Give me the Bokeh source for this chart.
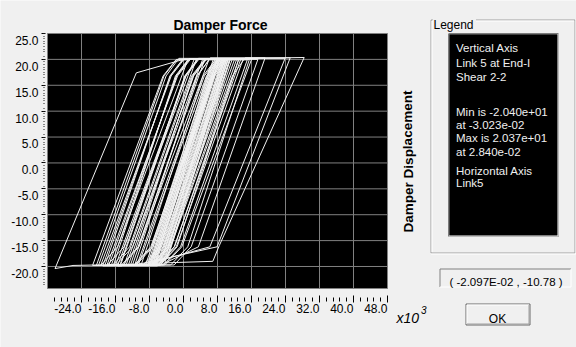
from bokeh.plotting import figure
from bokeh.models import FixedTicker, LinearAxis, Range1d
from bokeh.embed import file_html
from bokeh.resources import INLINE
from bokeh.core.properties import value

# Link 5 hysteresis: displacement (x10^-3) and shear force, one continuous path
disp = [
    0.0, 7.3, 10.3, 12.0, -3.7, -7.7,
    -9.0, 6.9, 9.9, 13.5, -2.2, -6.2,
    -11.0, 4.9, 7.9, 15.0, -0.7, -4.7,
    -13.5, 2.4, 5.4, 8.0, -7.7, -11.7,
    -16.0, 0.6, 3.6, 6.0, -10.5, -14.5,
    -19.0, -3.1, -0.1, 3.0, -12.7, -16.7,
    -21.4, -4.8, -1.8, 1.0, -15.5, -19.5,
    -20.0, -4.1, -1.1, 16.1, -0.4, -4.4,
    -12.0, 3.3, 6.3, 19.2, 3.5, -5.0,
    -17.5, -1.6, 1.4, 11.0, -4.7, -8.7,
    -16.5, -1.9, 1.1, 7.0, -7.5, -11.5,
    -13.0, 2.3, 5.3, 13.0, -2.1, -6.1,
    -15.5, 0.4, 3.4, 5.0, -10.7, -14.7,
    -18.5, -3.2, -0.2, 12.5, -3.2, -7.2,
    -10.0, 4.6, 7.6, 17.5, 1.8, -2.2,
    -14.8, 0.5, 3.5, 23.9, 6.2, -8.5, -26.0,
    -30.23, -11.1, 0.0, 28.40, 8.4, 6.9,
    -4.4, 11.5, 14.5, 25.1, 7.9, -9.6,
    -10.5, 5.4, 8.4, 14.0, -1.7, -5.7,
    -19.5, -2.9, 0.1, 4.5, -12.0, -16.0,
    -17.0, -1.7, 1.3, 9.5, -5.6, -9.6,
    -14.0, 1.9, 4.9, 10.5, -5.2, -9.2,
    -12.5, 2.1, 5.1, 15.5, 1.0, -3.0,
    -18.0, -1.4, 1.6, 2.5, -14.0, -18.0,
    -20.5, -4.6, -1.6, 8.5, -7.2, -11.2,
    -15.0, 0.3, 3.3, 11.5, -3.6, -7.6,
    -11.5, 3.1, 6.1, 13.0, -1.5, -5.5,
    -8.5, 6.0, 7.5, 9.0, -5.5, -7.5,
    -7.6, 6.9, 8.4, 9.6, -4.9, -6.9,
    -7.0, 7.5, 9.0, 10.2, -4.3, -6.3,
    -6.8, 7.7, 9.2, 10.8, -3.7, -5.7,
    -7.3, 7.2, 8.7, 9.8, -4.7, -6.7,
    -7.9, 6.6, 8.1, 9.2, -5.3, -7.3,
    -8.2, 6.3, 7.8, 10.5, -4.0, -6.0,
    -6.6, 7.9, 9.4, 11.0, -3.5, -5.5,
    -8.0, 6.5, 8.0, 9.4, -5.1, -7.1,
    -7.2, 7.3, 8.8, 10.0, -4.5, -6.5,
    -7.7, 6.8, 8.3, 9.7, -4.8, -6.8,
    -7.4, 7.1, 8.6, 10.4, -4.1, -6.1,
    -6.9, 7.6, 9.1, 10.1, 3.0,
]
force = [
    0.0, 16.8, 20.0, 20.0, -16.2, -19.8,
    -19.8, 16.8, 20.1, 20.1, -16.2, -19.8,
    -19.8, 16.8, 19.9, 19.9, -16.2, -19.7,
    -19.7, 16.8, 20.0, 20.0, -16.2, -19.8,
    -19.8, 16.8, 20.0, 20.0, -16.2, -19.9,
    -19.9, 16.8, 20.0, 20.0, -16.2, -19.8,
    -19.8, 16.8, 19.9, 19.9, -16.2, -19.8,
    -19.8, 16.8, 20.2, 20.2, -16.2, -19.7,
    -19.7, 16.8, 20.3, 20.3, -16.2, -19.6,
    -19.6, 16.8, 20.0, 20.0, -16.2, -19.8,
    -19.8, 16.8, 20.0, 20.0, -16.2, -19.8,
    -19.8, 16.8, 20.1, 20.1, -16.2, -19.9,
    -19.9, 16.8, 20.0, 20.0, -16.2, -19.8,
    -19.8, 16.8, 20.0, 20.0, -16.2, -19.8,
    -19.8, 16.8, 20.0, 20.0, -16.2, -19.7,
    -19.7, 16.8, 20.2, 20.2, -16.2, -19.5, -19.8,
    -20.40, 17.4, 20.0, 20.37, -16.0, -19.0,
    -19.3, 16.8, 20.3, 20.3, -16.2, -19.4,
    -19.4, 16.8, 20.0, 20.0, -16.2, -19.8,
    -19.8, 16.8, 20.0, 20.0, -16.2, -19.8,
    -19.8, 16.8, 20.1, 20.1, -16.2, -19.8,
    -19.8, 16.8, 19.9, 19.9, -16.2, -19.8,
    -19.8, 16.8, 20.0, 20.0, -16.2, -19.7,
    -19.7, 16.8, 20.0, 20.0, -16.2, -19.8,
    -19.8, 16.8, 20.0, 20.0, -16.2, -19.8,
    -19.8, 16.8, 20.1, 20.1, -16.2, -19.8,
    -19.8, 16.8, 20.0, 20.0, -16.2, -19.8,
    -19.8, 18.0, 20.0, 20.0, -17.8, -19.8,
    -19.8, 18.0, 20.0, 20.0, -17.8, -19.8,
    -19.8, 18.0, 20.0, 20.0, -17.8, -19.8,
    -19.8, 18.0, 20.0, 20.0, -17.8, -19.8,
    -19.8, 18.0, 20.0, 20.0, -17.8, -19.8,
    -19.8, 18.0, 20.0, 20.0, -17.8, -19.8,
    -19.8, 18.0, 20.0, 20.0, -17.8, -19.8,
    -19.8, 18.0, 20.0, 20.0, -17.8, -19.8,
    -19.8, 18.0, 20.0, 20.0, -17.8, -19.8,
    -19.8, 18.0, 20.0, 20.0, -17.8, -19.8,
    -19.8, 18.0, 20.0, 20.0, -17.8, -19.8,
    -19.8, 18.0, 20.0, 20.0, -17.8, -19.8,
    -19.8, 18.0, 20.0, 20.0, 1.5,
]

x_ticks = [-24.0, -16.0, -8.0, 0.0, 8.0, 16.0, 24.0, 32.0, 40.0, 48.0]
x_tick_labels = ["-24.0", "-16.0", "-8.0", "0.0", "8.0", "16.0", "24.0", "32.0", "40.0", "48.0"]
y_ticks = [-20.0, -15.0, -10.0, -5.0, 0.0, 5.0, 10.0, 15.0, 20.0, 25.0]
y_tick_labels = ["-20.0", "-15.0", "-10.0", "-5.0", "0.0", "5.0", "10.0", "15.0", "20.0", "25.0"]

legend_lines = ["Vertical Axis", "Link 5 at End-I", "Shear 2-2",
                "Min is -2.040e+01", "at -3.023e-02", "Max is 2.037e+01", "at 2.840e-02",
                "Horizontal Axis", "Link5"]
cursor_readout = "( -2.097E-02 , -10.78 )"

FONT = "Liberation Sans"
BG = "#f0f0f0"
W, H = 576, 347

# plot window of the chart, in page pixels, and its data limits
X0, X1, XMIN, XMAX = 47, 387, -32.0, 48.0
Y0, Y1, YMAX, YMIN = 33, 288, 25.0, -24.25
kx = (X1 - X0) / (XMAX - XMIN)
ky = (Y1 - Y0) / (YMAX - YMIN)

# whole dialog is one canvas; default ranges are page pixels (y downwards)
p = figure(width=W, height=H, x_range=Range1d(0, W), y_range=Range1d(H, 0),
           output_backend="svg", toolbar_location=None, min_border=0,
           background_fill_color=BG, border_fill_color=BG, outline_line_color=None,
           x_axis_location=None, y_axis_location=None)
p.xgrid.visible = False
p.ygrid.visible = False

# data scales of the chart, stretched so the plot window lands on X0..X1 / Y0..Y1
p.extra_x_ranges = {"disp": Range1d(XMIN - X0 / kx, XMIN + (W - X0) / kx)}
p.extra_y_ranges = {"force": Range1d(YMIN - (H - Y1) / ky, YMAX + Y0 / ky)}
D = dict(x_range_name="disp", y_range_name="force")

p.quad(left=XMIN, right=XMAX, bottom=YMIN, top=YMAX, fill_color="#000000",
       line_color="#808080", line_width=1, **D)

grid_x = [t for t in x_ticks if XMIN < t < XMAX]
grid_y = [t for t in y_ticks if YMIN < t < YMAX]
p.segment(x0=grid_x, x1=grid_x, y0=[YMIN] * len(grid_x), y1=[YMAX] * len(grid_x),
          line_color="#808080", line_width=1, **D)
p.segment(x0=[XMIN] * len(grid_y), x1=[XMAX] * len(grid_y), y0=grid_y, y1=grid_y,
          line_color="#808080", line_width=1, **D)

p.line(disp, force, line_color="#f2f2f2", line_width=1, **D)

# x axis: detached tick row under the window, labels ending at their tick
x_minor = [round(XMIN + 1.6 * i, 2) for i in range(1, 50) if i % 5]
ax_x = LinearAxis(ticker=FixedTicker(ticks=x_ticks, minor_ticks=x_minor),
                  fixed_location=YMIN, axis_line_color=None,
                  major_tick_in=-7, major_tick_out=14, minor_tick_in=-9, minor_tick_out=13,
                  major_tick_line_color="#000000", minor_tick_line_color="#000000",
                  major_label_overrides=dict(zip(x_ticks, x_tick_labels)),
                  major_label_orientation=1e-6, major_label_standoff=6,
                  major_label_text_font=FONT, major_label_text_font_size="12px",
                  major_label_text_color="#000000", **D)
p.add_layout(ax_x, "below")

# y axis: short ticks and a dotted column; each label sits just under its tick
y_minor = [round(-24.0 + 0.5 * i, 2) for i in range(0, 99) if (i % 10) != 0]
ax_y = LinearAxis(ticker=FixedTicker(ticks=y_ticks, minor_ticks=y_minor),
                  fixed_location=XMIN, axis_line_color=None,
                  major_tick_in=-2, major_tick_out=6, minor_tick_in=-3, minor_tick_out=4,
                  major_tick_line_color="#000000", minor_tick_line_color="#202020",
                  major_label_overrides={t: "\n" + lab for t, lab in zip(y_ticks, y_tick_labels)},
                  major_label_text_line_height=1.05, major_label_standoff=3,
                  major_label_text_font=FONT, major_label_text_font_size="12px",
                  major_label_text_color="#000000", **D)
p.add_layout(ax_y, "left")

# chart title, axis caption and scale note
p.text(x=[(X0 + X1) / 2 + 3], y=[24], text=["Damper Force"], text_font=value(FONT),
       text_font_style="bold", text_font_size="14px", text_align="center",
       text_baseline="alphabetic", text_color="#000000")
p.text(x=[407.5], y=[161], text=["Damper Displacement"], angle=1.5708,
       text_font=value(FONT), text_font_style="bold", text_font_size="13.5px",
       text_align="center", text_baseline="middle", text_color="#000000")
p.text(x=[396], y=[317], text=["x10"], text_font=value(FONT), text_font_style="italic",
       text_font_size="14px", text_baseline="alphabetic", text_color="#000000")
p.text(x=[420.5], y=[309.5], text=["3"], text_font=value(FONT), text_font_style="italic",
       text_font_size="10px", text_baseline="alphabetic", text_color="#000000")

# etched group frame with its caption
p.multi_line(xs=[[430.5, 432.5], [475.5, 574.5], [430.5, 430.5], [430.5, 574.5], [574.5, 574.5]],
             ys=[[19.5, 19.5], [19.5, 19.5], [19.5, 252.5], [252.5, 252.5], [19.5, 252.5]],
             line_color="#a0a0a0", line_width=1)
p.multi_line(xs=[[431.5, 432.5], [475.5, 573.5], [431.5, 431.5], [430.5, 575.5], [575.5, 575.5]],
             ys=[[20.5, 20.5], [20.5, 20.5], [20.5, 251.5], [253.5, 253.5], [19.5, 253.5]],
             line_color="#ffffff", line_width=1)
p.text(x=[433], y=[24], text=["Legend"], text_font=value(FONT), text_font_size="12px",
       text_baseline="alphabetic", text_align="left", text_color="#000000")

# black information box
p.quad(left=448, right=558, top=33, bottom=236, fill_color="#000000", line_color=None)
p.multi_line(xs=[[448.5, 448.5], [448.5, 557.5]], ys=[[235.5, 33.5], [33.5, 33.5]],
             line_color="#808080", line_width=1)
p.multi_line(xs=[[557.5, 557.5], [448.5, 557.5]], ys=[[33.5, 235.5], [235.5, 235.5]],
             line_color="#ffffff", line_width=1)
legend_baselines = [47, 62, 76, 111, 124, 137, 151, 170, 182]
p.text(x=[455.5] * len(legend_lines), y=legend_baselines, text=legend_lines,
       text_font=value(FONT), text_font_size="11.5px", text_baseline="alphabetic",
       text_align="left", text_color="#f0f0f0")

# cursor read-out field
p.multi_line(xs=[[439.5, 439.5], [439.5, 570.5]], ys=[[286.5, 268.5], [268.5, 268.5]],
             line_color="#808080", line_width=1)
p.multi_line(xs=[[570.5, 570.5], [439.5, 570.5]], ys=[[268.5, 286.5], [286.5, 286.5]],
             line_color="#ffffff", line_width=1)
p.text(x=[505.5], y=[281.5], text=[cursor_readout], text_font=value(FONT),
       text_font_size="11.5px", text_baseline="alphabetic", text_align="center",
       text_color="#000000")

# OK button
p.multi_line(xs=[[465.5, 529.5, 529.5, 465.5, 465.5]], ys=[[303.5, 303.5, 324.5, 324.5, 303.5]],
             line_color="#696969", line_width=1)
p.multi_line(xs=[[466.5, 466.5, 528.5]], ys=[[323.5, 304.5, 304.5]], line_color="#ffffff", line_width=1)
p.multi_line(xs=[[466.5, 528.5, 528.5]], ys=[[323.5, 323.5, 304.5]], line_color="#a0a0a0", line_width=1)
p.text(x=[497], y=[318], text=["OK"], text_font=value(FONT), text_font_size="12px",
       text_baseline="alphabetic", text_align="center", text_color="#000000")

open("out.html", "w").write(file_html(p, INLINE))
